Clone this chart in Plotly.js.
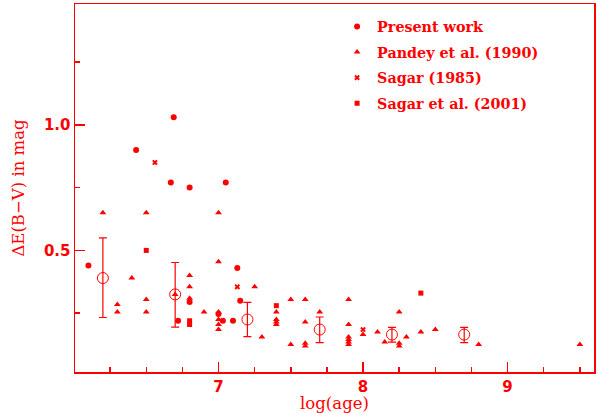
<!DOCTYPE html>
<html><head><meta charset="utf-8">
<script src="https://cdn.plot.ly/plotly-3.0.1.min.js"></script>
<style>html,body{margin:0;padding:0;background:#fff}#chart{width:600px;height:413px}</style>
</head><body><div id="chart"></div>
<script>
// Present work
const presentAge = [6.10, 6.43, 6.69, 6.67, 6.80, 7.05, 7.13, 7.15, 6.80, 6.72, 7.00, 7.03, 7.10];
const presentDE  = [0.44, 0.90, 1.03, 0.77, 0.75, 0.77, 0.43, 0.30, 0.295, 0.22, 0.247, 0.22, 0.22];
// Pandey et al. (1990)
const pandeyAge = [6.20, 6.50, 7.00, 6.40, 6.30, 6.30, 6.50, 6.50, 7.00, 6.80, 6.80, 6.80, 6.90,
  7.00, 7.00, 7.00, 7.00, 6.70, 7.25, 7.30, 7.40, 7.40, 7.40, 7.40, 7.50, 7.50, 7.60, 7.60, 7.60, 7.60,
  7.70, 7.90, 7.90, 7.90, 7.90, 7.90, 7.90, 8.00, 8.10, 8.15, 8.25, 8.25, 8.25, 8.30, 8.40, 8.50, 8.80, 9.50];
const pandeyDE = [0.65, 0.65, 0.65, 0.39, 0.285, 0.255, 0.305, 0.255, 0.455, 0.40, 0.355, 0.31, 0.255,
  0.255, 0.225, 0.205, 0.185, 0.325, 0.355, 0.155, 0.255, 0.225, 0.215, 0.205, 0.305, 0.125, 0.305, 0.215, 0.13, 0.12,
  0.255, 0.305, 0.205, 0.155, 0.145, 0.135, 0.125, 0.165, 0.175, 0.135, 0.255, 0.13, 0.12, 0.155, 0.175, 0.185, 0.125, 0.125];
// Sagar (1985)
const sagar85Age = [6.56, 7.13, 8.00];
const sagar85DE  = [0.85, 0.355, 0.185];
// Sagar et al. (2001)
const sagar01Age = [6.50, 6.80, 6.80, 7.40, 8.40];
const sagar01DE  = [0.50, 0.22, 0.205, 0.28, 0.33];
// Binned means with error bars
const meanAge = [6.2, 6.7, 7.2, 7.7, 8.2, 8.7];
const meanDE  = [0.39, 0.325, 0.225, 0.185, 0.165, 0.165];
const meanErrPlus  = [0.16, 0.127, 0.068, 0.05, 0.029, 0.029];
const meanErrMinus = [0.157, 0.13, 0.068, 0.052, 0.03, 0.032];
// Legend labels
const seriesNames = ['Present work', 'Pandey et al. (1990)', 'Sagar (1985)', 'Sagar et al. (2001)'];

const RED = '#ff0000';
const traces = [
  {x: meanAge, y: meanDE, type: 'scatter', mode: 'markers', showlegend: false,
   marker: {symbol: 'circle-open', size: 11, color: RED, line: {width: 1, color: RED}},
   error_y: {type: 'data', symmetric: false, array: meanErrPlus, arrayminus: meanErrMinus,
             color: RED, thickness: 1.2, width: 4}},
  {x: presentAge, y: presentDE, type: 'scatter', mode: 'markers', name: seriesNames[0], legendgroup: 'a',
   marker: {symbol: 'circle', size: 6, color: RED}},
  {x: pandeyAge, y: pandeyDE, type: 'scatter', mode: 'markers', name: seriesNames[1], legendgroup: 'b',
   marker: {symbol: 'triangle-up', size: 6, color: RED}},
  {x: sagar85Age, y: sagar85DE, type: 'scatter', mode: 'markers', name: seriesNames[2], legendgroup: 'c',
   marker: {symbol: 'x', size: 5, color: RED}},
  {x: sagar01Age, y: sagar01DE, type: 'scatter', mode: 'markers', name: seriesNames[3], legendgroup: 'd',
   marker: {symbol: 'square', size: 5, color: RED}}
];

const tickFont = {family: 'DejaVu Sans', size: 15, color: RED, weight: 'bold'};
const titleFont = {family: 'DejaVu Serif', size: 16.5, color: RED};

const layout = {
  width: 600, height: 413,
  margin: {l: 75, r: 6, t: 4, b: 41},
  paper_bgcolor: '#fff', plot_bgcolor: '#fff',
  showlegend: true,
  legend: {x: 0.505, xanchor: 'left', y: 0.982, yanchor: 'top', bgcolor: 'rgba(0,0,0,0)',
           font: {family: 'DejaVu Serif', size: 14.3, color: RED, weight: 'bold'},
           tracegroupgap: 4, itemwidth: 30},
  xaxis: {range: [6.007, 9.598], showline: true, linecolor: RED, linewidth: 1.5, mirror: true,
          ticks: 'inside', ticklen: 10, tickwidth: 1.5, tickcolor: RED, dtick: 1, tick0: 0,
          minor: {dtick: 0.25, ticks: 'inside', ticklen: 5, tickwidth: 1.5, tickcolor: RED},
          showgrid: false, zeroline: false, tickfont: tickFont, automargin: false,
          title: {text: 'log(age)', font: titleFont, standoff: 2}},
  yaxis: {range: [0.016, 1.481], showline: true, linecolor: RED, linewidth: 1.5, mirror: true,
          ticks: 'inside', ticklen: 10, tickwidth: 1.5, tickcolor: RED, dtick: 0.5, tick0: 0,
          tickformat: '.1f',
          minor: {dtick: 0.25, ticks: 'inside', ticklen: 5, tickwidth: 1.5, tickcolor: RED},
          showgrid: false, zeroline: false, tickfont: tickFont, automargin: false,
          title: {text: 'ΔE(B−V) in mag', font: titleFont, standoff: 15}}
};

Plotly.newPlot('chart', traces, layout, {displayModeBar: false, staticPlot: true});
</script>
</body></html>
